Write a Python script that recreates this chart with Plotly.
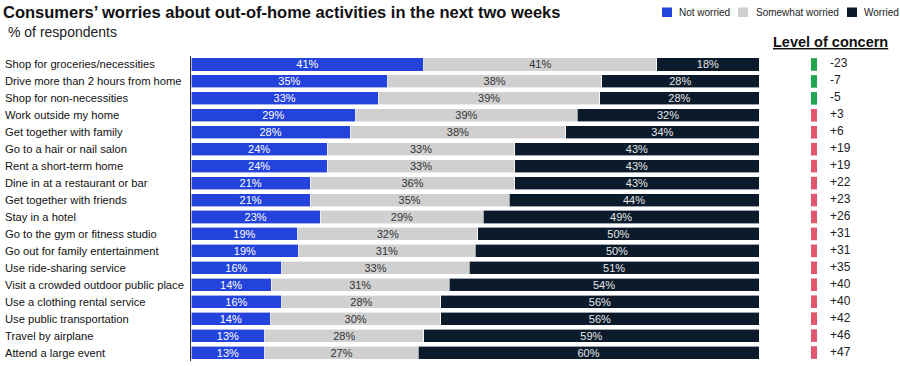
import plotly.graph_objects as go

W, H = 900, 366

activities = [
    "Shop for groceries/necessities",
    "Drive more than 2 hours from home",
    "Shop for non-necessities",
    "Work outside my home",
    "Get together with family",
    "Go to a hair or nail salon",
    "Rent a short-term home",
    "Dine in at a restaurant or bar",
    "Get together with friends",
    "Stay in a hotel",
    "Go to the gym or fitness studio",
    "Go out for family entertainment",
    "Use ride-sharing service",
    "Visit a crowded outdoor public place",
    "Use a clothing rental service",
    "Use public transportation",
    "Travel by airplane",
    "Attend a large event",
]
not_worried = [41, 35, 33, 29, 28, 24, 24, 21, 21, 23, 19, 19, 16, 14, 16, 14, 13, 13]
somewhat_worried = [41, 38, 39, 39, 38, 33, 33, 36, 35, 29, 32, 31, 33, 31, 28, 30, 28, 27]
worried = [18, 28, 28, 32, 34, 43, 43, 43, 44, 49, 50, 50, 51, 54, 56, 56, 59, 60]
concern = [-23, -7, -5, 3, 6, 19, 19, 22, 23, 26, 31, 31, 35, 40, 40, 42, 46, 47]

series_names = ["Not worried", "Somewhat worried", "Worried"]
series_colors = ["#2443DC", "#D0D0D0", "#0C1B2C"]
series_text_colors = ["#FFFFFF", "#333333", "#E6E6E6"]

FONT = "Liberation Sans, Arial, sans-serif"

# plot-area geometry in pixels
L_PX, R_PX = 191, 759
T_PX, B_PX = 56, 361


def px_x(px):
    return px / W


def px_y(py):
    return (B_PX - py) / (B_PX - T_PX)


fig = go.Figure()

for name, vals, col, tcol in zip(series_names,
                                 [not_worried, somewhat_worried, worried],
                                 series_colors, series_text_colors):
    fig.add_trace(go.Bar(
        y=activities, x=vals, name=name, orientation="h",
        marker=dict(color=col, line=dict(color="#FFFFFF", width=0.6)),
        text=vals, texttemplate="%{text}%", textposition="inside",
        insidetextanchor="middle", constraintext="none",
        textfont=dict(family=FONT, size=11, color=tcol),
        showlegend=False, hoverinfo="skip",
    ))

# Level of concern column (xaxis2: 1 unit = 1 px, starting at x=774)
concern_colors = ["#1FA64E" if v < 0 else "#E0576E" for v in concern]
concern_labels = [f"{v:+d}" if v != 0 else "0" for v in concern]
fig.add_trace(go.Scatter(
    y=activities, x=[40] * len(activities), xaxis="x2", yaxis="y",
    mode="markers",
    marker=dict(symbol="line-ns", size=9,
                line=dict(color=concern_colors, width=6)),
    showlegend=False, hoverinfo="skip", cliponaxis=False,
))
fig.add_trace(go.Scatter(
    y=activities, x=[56] * len(activities), xaxis="x2", yaxis="y",
    mode="text", text=concern_labels, textposition="middle right",
    textfont=dict(family=FONT, size=12, color="#222222"),
    showlegend=False, hoverinfo="skip", cliponaxis=False,
))

annotations = []
# category labels, left aligned
for a in activities:
    annotations.append(dict(
        x=px_x(3), xref="paper", y=a, yref="y", text=a, showarrow=False,
        xanchor="left", yanchor="middle",
        font=dict(family=FONT, size=11.2, color="#111111"),
    ))

annotations.append(dict(
    x=px_x(6), xref="paper", y=px_y(32), yref="paper",
    text="% of respondents", showarrow=False, xanchor="left", yanchor="middle",
    font=dict(family=FONT, size=14, color="#222222"),
))
annotations.append(dict(
    x=px_x(830), xref="paper", y=px_y(42), yref="paper",
    text="<b>Level of concern</b>", showarrow=False, xanchor="center", yanchor="middle",
    font=dict(family=FONT, size=14.5, color="#111111", lineposition="under"),
))

# custom legend
shapes = []
legend_items = [(662, 677), (738, 754), (847, 862)]
for (sx, tx), name, col in zip(legend_items, series_names, series_colors):
    shapes.append(dict(type="rect", xref="paper", yref="paper",
                       x0=px_x(sx), x1=px_x(sx + 10),
                       y0=px_y(17), y1=px_y(7.5),
                       fillcolor=col, line=dict(width=0)))
    annotations.append(dict(
        x=px_x(tx), xref="paper", y=px_y(12.5), yref="paper", text=name,
        showarrow=False, xanchor="left", yanchor="middle",
        font=dict(family=FONT, size=10, color="#222222"),
    ))

n = len(activities)
fig.update_layout(
    width=W, height=H,
    margin=dict(l=0, r=0, t=T_PX, b=H - B_PX, pad=0),
    paper_bgcolor="white", plot_bgcolor="white",
    barmode="stack", barnorm="percent", bargap=0.23,
    title=dict(
        text="<b>Consumers’ worries about out-of-home activities in the next two weeks</b>",
        x=px_x(3), xanchor="left", xref="paper",
        y=1 - 12.5 / H, yanchor="middle", yref="container",
        font=dict(family=FONT, size=16.5, color="#111111"),
    ),
    xaxis=dict(domain=[px_x(L_PX), px_x(R_PX)], range=[0, 100],
               visible=False, fixedrange=True),
    xaxis2=dict(domain=[px_x(774), 1.0], range=[0, 126], anchor="y",
                visible=False, fixedrange=True),
    yaxis=dict(categoryorder="array", categoryarray=activities[::-1],
               range=[-0.5, n - 0.5], autorange=False,
               showticklabels=False, showgrid=False, zeroline=False,
               showline=True, linecolor="#333333", linewidth=1, ticks="",
               fixedrange=True),
    annotations=annotations, shapes=shapes,
    font=dict(family=FONT),
)

fig.write_html("out.html", config={"displayModeBar": False},
               post_script="document.body.style.margin='0';")
